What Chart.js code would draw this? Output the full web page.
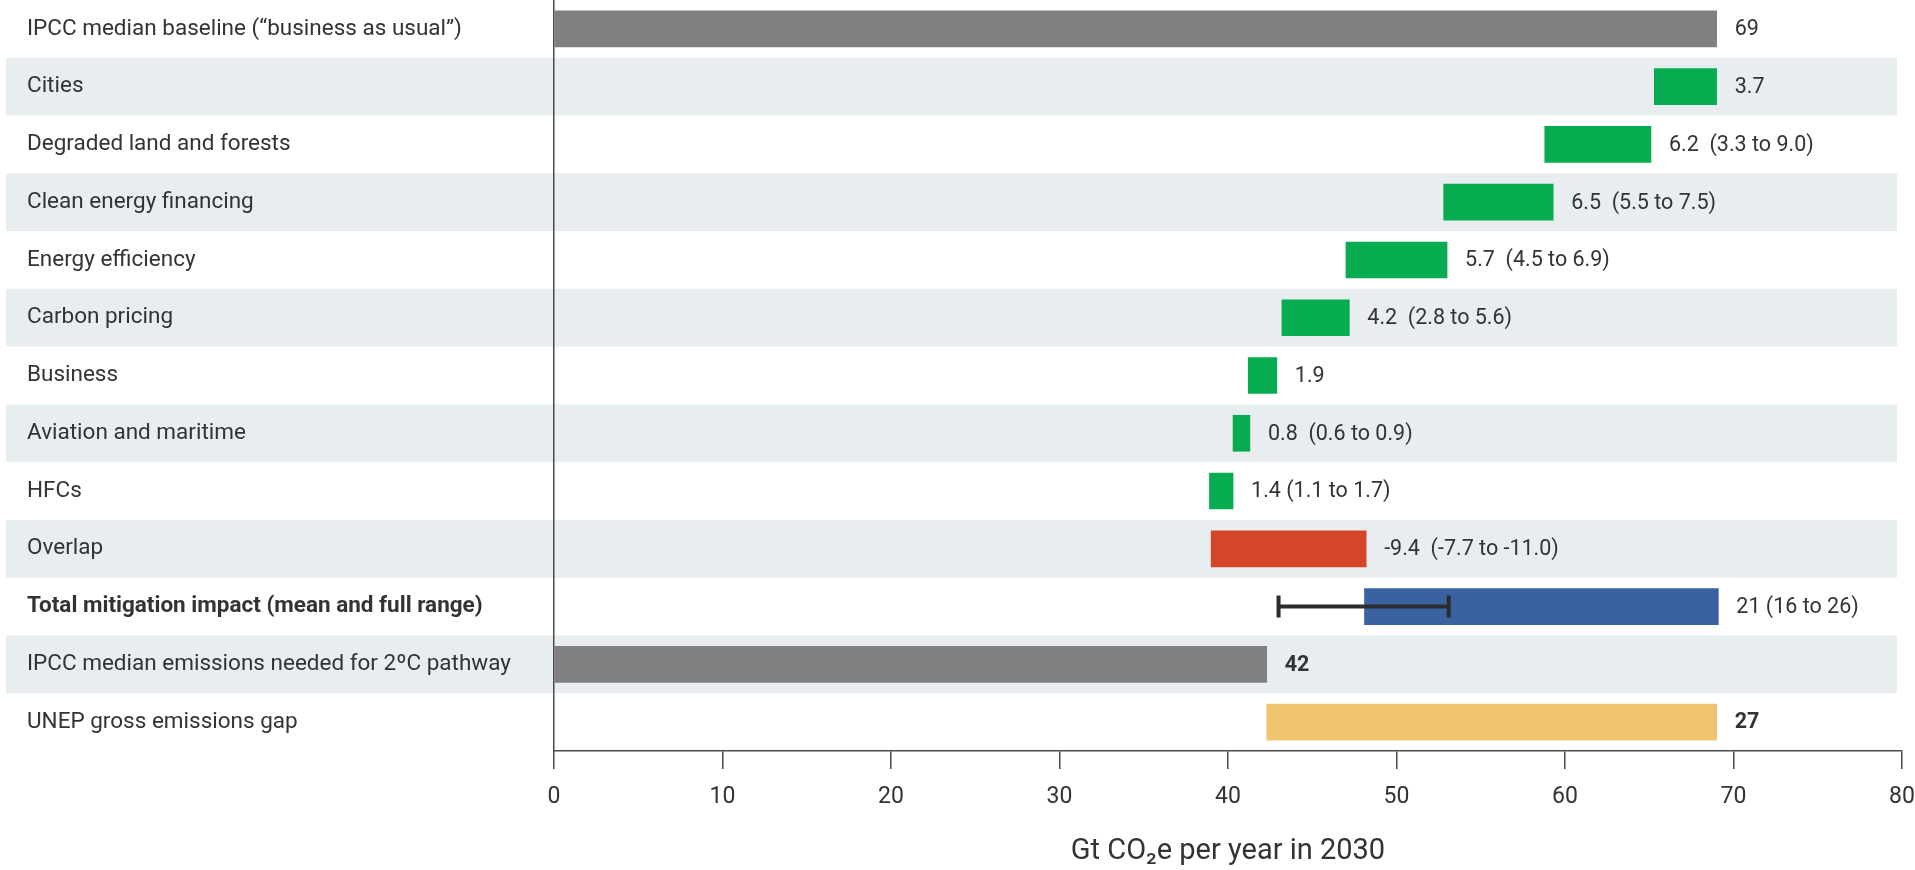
<!DOCTYPE html>
<html>
<head>
<meta charset="utf-8">
<title>Mitigation impact vs emissions gap</title>
<script src="https://cdn.jsdelivr.net/npm/chart.js@4.4.0/dist/chart.umd.min.js"></script>
<style>
  html, body { margin: 0; padding: 0; background: #fff; }
  #wrap { width: 1915px; height: 870px; position: relative; }
</style>
</head>
<body>
<div id="wrap"><canvas id="gapChart"></canvas></div>
<script>
// Row labels, top to bottom
const categories = [
  'IPCC median baseline (\u201cbusiness as usual\u201d)',
  'Cities',
  'Degraded land and forests',
  'Clean energy financing',
  'Energy efficiency',
  'Carbon pricing',
  'Business',
  'Aviation and maritime',
  'HFCs',
  'Overlap',
  'Total mitigation impact (mean and full range)',
  'IPCC median emissions needed for 2\u00baC pathway',
  'UNEP gross emissions gap'
];

// Floating bar start / end (Gt CO2e)
const barStart = [0, 65.3, 58.8, 52.8, 47.0, 43.2, 41.2, 40.3, 38.9, 39.0, 48.1, 0, 42.3];
const barEnd   = [69, 69.0, 65.1, 59.3, 53.0, 47.2, 42.9, 41.3, 40.3, 48.2, 69.1, 42.3, 69.0];

const valueLabels = [
  '69', '3.7', '6.2  (3.3 to 9.0)', '6.5  (5.5 to 7.5)', '5.7  (4.5 to 6.9)',
  '4.2  (2.8 to 5.6)', '1.9', '0.8  (0.6 to 0.9)', '1.4 (1.1 to 1.7)',
  '-9.4  (-7.7 to -11.0)', '21 (16 to 26)', '42', '27'
];
const boldValueRows = [11, 12];

// full range of total mitigation impact
const errorRow = 10;
const errorRange = [43.0, 53.1];

const xMin = 0, xMax = 80, xStep = 10;

const COLORS = {
  gray: '#808080',
  green: '#07AC51',
  red: '#D54527',
  blue: '#3B62A0',
  gold: '#EFC36F',
  band: '#E8EDF0',
  axis: '#4a4a4a',
  text: '#333333'
};
const barColors = [COLORS.gray, COLORS.green, COLORS.green, COLORS.green, COLORS.green,
  COLORS.green, COLORS.green, COLORS.green, COLORS.green, COLORS.red, COLORS.blue,
  COLORS.gray, COLORS.gold];

const FONT = "Roboto, 'Noto Sans', sans-serif";

// light stripes behind every other row, running under the labels too
const rowBands = {
  id: 'rowBands',
  beforeDraw(chart) {
    const { ctx, chartArea } = chart;
    const y = chart.scales.y;
    const half = (y.getPixelForValue(1) - y.getPixelForValue(0)) / 2;
    ctx.save();
    ctx.fillStyle = COLORS.band;
    categories.forEach((c, i) => {
      if (i % 2 === 1) {
        const cy = y.getPixelForValue(i);
        ctx.fillRect(6, cy - half, chartArea.right - 11, half * 2);
      }
    });
    ctx.restore();
  }
};

const barLabels = {
  id: 'barLabels',
  afterDatasetsDraw(chart) {
    const { ctx } = chart;
    const meta = chart.getDatasetMeta(0);
    ctx.save();
    ctx.fillStyle = COLORS.text;
    ctx.textBaseline = 'middle';
    ctx.textAlign = 'left';
    meta.data.forEach((bar, i) => {
      const bold = boldValueRows.includes(i);
      ctx.font = (bold ? 'bold ' : '') + '21.5px ' + FONT;
      ctx.fillText(valueLabels[i], Math.max(bar.x, bar.base) + 18, bar.y + 1);
    });
    ctx.restore();
  }
};

const rangeBar = {
  id: 'rangeBar',
  afterDatasetsDraw(chart) {
    const { ctx } = chart;
    const x = chart.scales.x, y = chart.scales.y;
    const cy = y.getPixelForValue(errorRow);
    const x1 = x.getPixelForValue(errorRange[0]);
    const x2 = x.getPixelForValue(errorRange[1]);
    ctx.save();
    ctx.strokeStyle = '#2b2b30';
    ctx.lineWidth = 4;
    ctx.beginPath();
    ctx.moveTo(x1, cy); ctx.lineTo(x2, cy);
    ctx.moveTo(x1, cy - 11); ctx.lineTo(x1, cy + 11);
    ctx.moveTo(x2, cy - 11); ctx.lineTo(x2, cy + 11);
    ctx.stroke();
    ctx.restore();
  }
};

new Chart(document.getElementById('gapChart'), {
  type: 'bar',
  data: {
    labels: categories,
    datasets: [{
      data: barStart.map((s, i) => [s, barEnd[i]]),
      backgroundColor: barColors,
      barThickness: 36,
      borderSkipped: false
    }]
  },
  options: {
    indexAxis: 'y',
    responsive: true,
    maintainAspectRatio: false,
    animation: false,
    layout: { padding: { left: 27, right: 13, top: -5, bottom: 0 } },
    plugins: {
      legend: { display: false },
      tooltip: { enabled: false }
    },
    scales: {
      x: {
        type: 'linear',
        min: xMin, max: xMax,
        afterFit(scale) {
          scale.height = 119;
          scale.paddingLeft = 0;
          scale.paddingRight = 0;
        },
        grid: { drawOnChartArea: false, drawTicks: true, tickLength: 18, color: COLORS.axis, lineWidth: 1.5 },
        border: { display: true, color: COLORS.axis, width: 1.5 },
        ticks: { stepSize: xStep, padding: 14, color: COLORS.text, font: { family: FONT, size: 23 } },
        title: {
          display: true,
          text: 'Gt CO\u2082e per year in 2030',
          color: COLORS.text,
          font: { family: FONT, size: 29 },
          padding: { top: 0, bottom: 1 }
        }
      },
      y: {
        afterFit(scale) {
          scale.width = 527;
          scale.paddingTop = 0;
          scale.paddingBottom = 0;
        },
        grid: { display: false },
        border: { display: true, color: COLORS.axis, width: 1.5 },
        ticks: {
          crossAlign: 'far',
          padding: 0,
          color: COLORS.text,
          font: (ctx) => ({ family: FONT, size: 22.5, weight: ctx.index === errorRow ? 'bold' : 'normal' })
        }
      }
    }
  },
  plugins: [rowBands, barLabels, rangeBar]
});
</script>
</body>
</html>
